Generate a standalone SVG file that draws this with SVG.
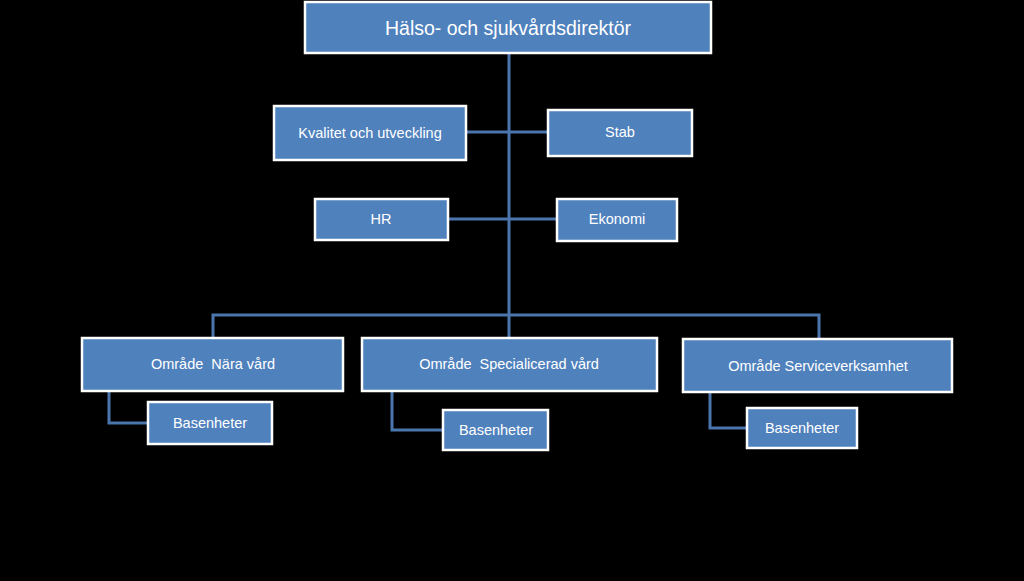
<svg xmlns="http://www.w3.org/2000/svg" width="1024" height="581" viewBox="0 0 1024 581">
<style>
.box{fill:#4f81bd;stroke:#ffffff;stroke-width:2.5}
.t{font-family:"Liberation Sans",Arial,sans-serif;font-size:14.5px;fill:#ffffff;text-anchor:middle;dominant-baseline:central;white-space:pre}
.big{font-size:19.5px}
.c{fill:none;stroke:#4a76ad;stroke-width:3}
</style>
<rect width="1024" height="581" fill="#000000"/>
<g id="connectors">
<path class="c" d="M509,53 V315"/>
<path class="c" d="M466,132 H548"/>
<path class="c" d="M448,219 H557"/>
<path class="c" d="M213,338 V315 H819 V338"/>
<path class="c" d="M509,315 V338"/>
<path class="c" d="M109,391 V423 H148"/>
<path class="c" d="M392,391 V430 H443"/>
<path class="c" d="M710,392 V428 H747"/>
</g>
<g id="n-director"><rect class="box" x="305" y="2" width="406" height="51"/><text class="t big" x="508" y="28">Hälso- och sjukvårdsdirektör</text></g>
<g id="n-kvalitet"><rect class="box" x="274" y="106" width="192" height="54"/><text class="t" x="370" y="133">Kvalitet och utveckling</text></g>
<g id="n-stab"><rect class="box" x="548" y="110" width="144" height="46"/><text class="t" x="620" y="132">Stab</text></g>
<g id="n-hr"><rect class="box" x="315" y="199" width="133" height="41"/><text class="t" x="381" y="219">HR</text></g>
<g id="n-ekonomi"><rect class="box" x="557" y="199" width="120" height="42"/><text class="t" x="617" y="219">Ekonomi</text></g>
<g id="n-nara"><rect class="box" x="82" y="338" width="261" height="53"/><text class="t" x="213" y="364" xml:space="preserve">Område  Nära vård</text></g>
<g id="n-nara-bas"><rect class="box" x="148" y="402" width="124" height="42"/><text class="t" x="210" y="423">Basenheter</text></g>
<g id="n-spec"><rect class="box" x="362" y="338" width="295" height="53"/><text class="t" x="509" y="364" xml:space="preserve">Område  Specialicerad vård</text></g>
<g id="n-spec-bas"><rect class="box" x="443" y="410" width="105" height="40"/><text class="t" x="496" y="430">Basenheter</text></g>
<g id="n-service"><rect class="box" x="683" y="339" width="269" height="53"/><text class="t" x="818" y="366">Område Serviceverksamhet</text></g>
<g id="n-service-bas"><rect class="box" x="747" y="408" width="110" height="40"/><text class="t" x="802" y="428">Basenheter</text></g>
</svg>
